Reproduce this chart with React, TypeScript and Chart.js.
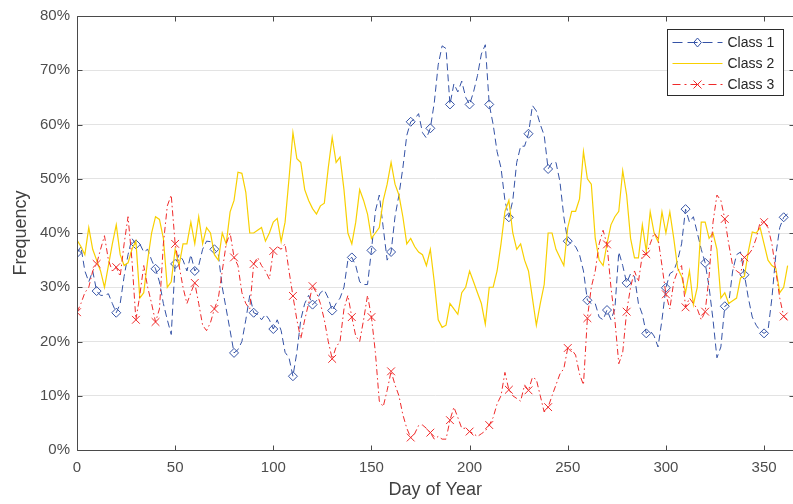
import React, { useEffect, useRef } from 'react';
import { Chart, registerables } from 'chart.js';

Chart.register(...registerables);

// Day of year (sampled every 2 days)
const days = [
  0, 2, 4, 6, 8, 10, 12, 14, 16, 18, 20, 22, 24, 26, 28, 30, 32, 34, 36, 38, 40, 42, 44, 46, 48, 50, 52, 54, 56, 58, 60,
  62, 64, 66, 68, 70, 72, 74, 76, 78, 80, 82, 84, 86, 88, 90, 92, 94, 96, 98, 100, 102, 104, 106, 108, 110, 112, 114, 116, 118, 120,
  122, 124, 126, 128, 130, 132, 134, 136, 138, 140, 142, 144, 146, 148, 150, 152, 154, 156, 158, 160, 162, 164, 166, 168, 170, 172, 174, 176, 178, 180,
  182, 184, 186, 188, 190, 192, 194, 196, 198, 200, 202, 204, 206, 208, 210, 212, 214, 216, 218, 220, 222, 224, 226, 228, 230, 232, 234, 236, 238, 240,
  242, 244, 246, 248, 250, 252, 254, 256, 258, 260, 262, 264, 266, 268, 270, 272, 274, 276, 278, 280, 282, 284, 286, 288, 290, 292, 294, 296, 298, 300,
  302, 304, 306, 308, 310, 312, 314, 316, 318, 320, 322, 324, 326, 328, 330, 332, 334, 336, 338, 340, 342, 344, 346, 348, 350, 352, 354, 356, 358, 360, 362,
];

const class1 = [
  36.3, 37.5, 33, 31, 33, 29.3, 28.5, 28.5, 28.8, 27, 25.3, 27, 32, 36, 39, 37.9, 38, 36.5, 37, 35, 33.4, 31, 27, 24, 21.3, 34.3, 36, 35, 33, 36, 33,
  34, 37, 38.5, 38.4, 37, 36, 30, 26, 22, 17.9, 18.5, 20, 24, 28.5, 25.3, 25, 24, 25, 24, 22.3, 24, 22, 18, 17, 13.6, 18, 24, 27, 28.5, 26.8,
  27.5, 29, 29.5, 28, 25.7, 27, 28, 30, 35, 35.5, 34, 31, 30.5, 30.5, 36.8, 44, 47, 41, 35, 36.5, 43, 47, 52, 58, 60.5, 61, 62, 58.5, 57.5, 59.3,
  64, 71, 74.5, 74, 63.7, 67.5, 66, 68, 65, 63.7, 66, 69, 73, 74.7, 63.7, 60, 55, 52, 46, 42.9, 46, 53, 56, 56, 58.3, 63.5, 62.5, 60, 58, 51.8,
  53, 53, 49.5, 43, 38.5, 38, 37.5, 36, 33, 27.6, 27, 27, 24.5, 24, 25.8, 24, 26, 36.5, 34, 30.8, 32.5, 32, 27, 25, 21.5, 22, 21, 19, 24, 29.9,
  32.5, 33, 35, 38, 44.4, 42, 43, 40, 37, 34.5, 30, 24, 17, 19, 26.5, 27, 33, 36, 36.5, 32.3, 28, 24.5, 23, 22, 21.5, 22, 28, 36, 41, 42.9, 43.5,
];

const class2 = [
  38.7, 37.5, 36, 41, 37, 35, 33, 30, 34, 38, 41.5, 36, 34, 34.5, 37, 38.5, 28, 29, 35, 40, 43, 42.5, 39, 30, 31, 37, 34, 38, 38, 42, 38,
  43, 38, 41, 40, 36, 35, 40, 38, 43.9, 46, 51.2, 51, 47.5, 40, 40, 40.5, 41, 38.5, 40, 42, 42.7, 38.4, 42, 50, 58.5, 53.7, 53, 48, 46, 44.5,
  43.5, 45, 45.5, 52, 57.6, 53, 54, 48, 40, 38, 42, 48, 46, 43.5, 39, 40, 41, 46, 49, 53, 49, 47, 43, 38, 39, 37.5, 36.5, 36, 34, 37,
  31, 24, 22.6, 23, 27, 26, 25, 29, 30, 33, 31, 29, 27, 23.2, 30, 30, 33, 38, 44, 46, 40, 37, 38, 35, 33, 28, 23, 27, 30.5, 40,
  40, 37, 35.5, 34, 41, 44, 44, 46.3, 55, 50, 49, 39, 35, 34, 38, 41.5, 43, 44, 51.5, 47, 39, 35.4, 35.4, 41.5, 36.6, 43.9, 40, 38.4, 43.9, 40,
  43.9, 39, 33.5, 32, 29, 33, 26.8, 30, 42, 42, 39, 40, 37, 28, 29, 27, 27.5, 28, 31.7, 32, 36.6, 40.2, 40, 41, 38, 35, 34, 33.5, 29, 30, 34,
];

const class3 = [
  25.4, 27, 29, 30, 33, 34.3, 37, 39.5, 35, 33, 33.7, 32, 38, 43, 35, 24, 28.5, 34, 30, 27, 23.6, 26, 38, 45, 47, 38, 34, 30, 27, 29, 30.8,
  27, 23, 22, 23.5, 26, 28, 33, 38, 40, 35.5, 34, 29, 27, 26, 34.3, 35.5, 34, 33, 31.5, 36.7, 37.5, 37, 38, 33, 28.4, 24, 20.5, 24, 27, 30.2,
  29, 27, 24, 20, 16.8, 19, 20, 26, 28.5, 24.5, 21, 20, 24, 28.5, 24.5, 18, 9, 8, 11, 14.5, 12, 10, 6.5, 4, 2.3, 3, 4.5, 4.6, 4, 3.2,
  2, 2.5, 2, 2, 5.5, 7.9, 6, 4, 4, 3.4, 3, 2.5, 3, 3.5, 4.6, 6, 8.5, 10, 14.3, 11.1, 10, 9.5, 9, 12, 11, 13.4, 13, 10, 7, 7.9,
  10, 12, 14, 15, 18.8, 18.5, 17.5, 14, 12, 24.3, 30, 33, 38, 40.5, 37.9, 30, 24, 15.9, 18, 25.5, 30, 33, 31, 36, 36.1, 38, 40, 39, 34, 28.7,
  26, 31, 33, 34, 26.3, 28, 27, 26, 24, 25.5, 32, 42, 47, 46, 42.6, 38, 34, 33, 32.5, 35.5, 36, 37, 39, 42, 42, 41, 38, 33, 28, 24.6, 24,
];

const seriesNames = ['Class 1', 'Class 2', 'Class 3'];
const xTicks = [0, 50, 100, 150, 200, 250, 300, 350];
const yTicks = [0, 10, 20, 30, 40, 50, 60, 70, 80];

const BLUE = '#3553a6';
const YELLOW = '#f8d000';
const RED = '#ef2a2a';
const FONT = "'Liberation Sans', Arial, Helvetica, sans-serif";

const markerEvery = 10;

function drawMarker(ctx: CanvasRenderingContext2D, kind: string, x: number, y: number, color: string) {
  ctx.save();
  ctx.setLineDash([]);
  ctx.strokeStyle = color;
  ctx.lineWidth = 1;
  ctx.beginPath();
  if (kind === 'diamond') {
    const r = 4.5;
    ctx.moveTo(x, y - r);
    ctx.lineTo(x + r * 0.85, y);
    ctx.lineTo(x, y + r);
    ctx.lineTo(x - r * 0.85, y);
    ctx.closePath();
  } else {
    const r = 4;
    ctx.moveTo(x - r, y - r);
    ctx.lineTo(x + r, y + r);
    ctx.moveTo(x + r, y - r);
    ctx.lineTo(x - r, y + r);
  }
  ctx.stroke();
  ctx.restore();
}

const framePlugin = {
  id: 'matlabFrame',
  afterDatasetsDraw(chart: any) {
    const { ctx, chartArea } = chart;
    const { left, right, top, bottom } = chartArea;
    const xs = chart.scales.x;
    const ys = chart.scales.y;
    ctx.save();
    ctx.setLineDash([]);
    ctx.strokeStyle = '#4a4a4a';
    ctx.lineWidth = 1;
    const L = Math.round(left) + 0.5;
    const R = Math.round(right) + 0.5;
    const T = Math.round(top) + 0.5;
    const B = Math.round(bottom) + 0.5;
    ctx.beginPath();
    ctx.moveTo(L, T);
    ctx.lineTo(R, T);
    ctx.lineTo(R, B);
    ctx.lineTo(L, B);
    ctx.closePath();
    ctx.stroke();
    const tl = 5;
    ctx.beginPath();
    xTicks.forEach((t) => {
      const px = Math.round(xs.getPixelForValue(t)) + 0.5;
      ctx.moveTo(px, B);
      ctx.lineTo(px, B - tl);
      ctx.moveTo(px, T);
      ctx.lineTo(px, T + tl);
    });
    yTicks.forEach((t) => {
      const py = Math.round(ys.getPixelForValue(t)) + 0.5;
      ctx.moveTo(L, py);
      ctx.lineTo(L + tl, py);
      ctx.moveTo(R, py);
      ctx.lineTo(R - tl, py);
    });
    ctx.stroke();
    ctx.restore();
  },
  afterDraw(chart: any) {
    const ctx: CanvasRenderingContext2D = chart.ctx;
    const bx = 667.5, by = 29.5, bw = 116, bh = 66;
    ctx.save();
    ctx.fillStyle = '#ffffff';
    ctx.fillRect(bx, by, bw, bh);
    ctx.strokeStyle = '#2b2b2b';
    ctx.lineWidth = 1;
    ctx.setLineDash([]);
    ctx.strokeRect(bx, by, bw, bh);
    const rows = [42.5, 63.5, 84.5];
    const styles = [
      { color: BLUE, dash: [10, 5], marker: 'diamond' },
      { color: YELLOW, dash: [], marker: '' },
      { color: RED, dash: [8, 4, 2, 4], marker: 'cross' },
    ];
    const x0 = 672.5, x1 = 722.5, xm = 697.5;
    rows.forEach((ry, i) => {
      const s = styles[i];
      ctx.save();
      ctx.strokeStyle = s.color;
      ctx.lineWidth = 1;
      ctx.setLineDash(s.dash);
      ctx.beginPath();
      ctx.moveTo(x0, ry);
      ctx.lineTo(x1, ry);
      ctx.stroke();
      ctx.restore();
      if (s.marker) drawMarker(ctx, s.marker, xm, ry, s.color);
      ctx.fillStyle = '#262626';
      ctx.font = `14px ${FONT}`;
      ctx.textBaseline = 'middle';
      ctx.textAlign = 'left';
      ctx.fillText(seriesNames[i], 727.5, ry + 0.5);
    });
    ctx.restore();
  },
};

export default function App() {
  const canvasRef = useRef<HTMLCanvasElement | null>(null);

  useEffect(() => {
    const canvas = canvasRef.current;
    if (!canvas) return;
    const toPts = (vals: number[]) => days.map((d, i) => ({ x: d, y: vals[i] }));
    const chart = new Chart(canvas, {
      type: 'line',
      data: {
        datasets: [
          {
            label: seriesNames[0],
            data: toPts(class1),
            borderColor: BLUE,
            backgroundColor: 'transparent',
            borderWidth: 1,
            borderDash: [7, 4],
            pointStyle: 'rectRot',
            pointRadius: days.map((d) => (d % markerEvery === 0 ? 4.5 : 0)),
            pointBorderColor: BLUE,
            pointBackgroundColor: 'transparent',
            pointBorderWidth: 1,
            tension: 0,
            order: 3,
          },
          {
            label: seriesNames[1],
            data: toPts(class2),
            borderColor: YELLOW,
            backgroundColor: 'transparent',
            borderWidth: 1.2,
            pointRadius: 0,
            tension: 0,
            order: 2,
          },
          {
            label: seriesNames[2],
            data: toPts(class3),
            borderColor: RED,
            backgroundColor: 'transparent',
            borderWidth: 1,
            borderDash: [6, 3, 1.5, 3],
            pointStyle: 'crossRot',
            pointRadius: days.map((d) => (d % markerEvery === 0 ? 5.5 : 0)),
            pointBorderColor: RED,
            pointBackgroundColor: 'transparent',
            pointBorderWidth: 1,
            tension: 0,
            order: 1,
          },
        ],
      },
      options: {
        responsive: false,
        animation: false,
        devicePixelRatio: 1,
        layout: { padding: { top: 13, right: 1, left: 0, bottom: 0 } },
        plugins: {
          legend: { display: false },
          tooltip: { enabled: false },
        },
        elements: { line: { borderCapStyle: 'butt' } },
        scales: {
          x: {
            type: 'linear',
            min: 0,
            max: 365,
            afterFit: (s: any) => {
              s.height = 54;
            },
            afterBuildTicks: (s: any) => {
              s.ticks = xTicks.map((v) => ({ value: v }));
            },
            ticks: {
              padding: 9,
              color: '#4d4d4d',
              font: { family: FONT, size: 15 },
              maxRotation: 0,
            },
            grid: { display: false, drawTicks: false },
            border: { display: false },
            title: {
              display: true,
              text: 'Day of Year',
              color: '#404040',
              font: { family: FONT, size: 18 },
              padding: { top: 0, bottom: 3 },
            },
          },
          y: {
            type: 'linear',
            min: 0,
            max: 80,
            afterFit: (s: any) => {
              s.width = 77;
            },
            afterBuildTicks: (s: any) => {
              s.ticks = yTicks.map((v) => ({ value: v }));
            },
            ticks: {
              padding: 7,
              color: '#4d4d4d',
              font: { family: FONT, size: 15 },
              callback: (v: any) => `${v}%`,
            },
            grid: { color: '#e3e3e3', lineWidth: 1, drawTicks: false },
            border: { display: false },
            title: {
              display: true,
              text: 'Frequency',
              color: '#404040',
              font: { family: FONT, size: 18 },
              padding: { top: 10, bottom: 0 },
            },
          },
        },
      },
      plugins: [framePlugin],
    });
    return () => chart.destroy();
  }, []);

  return (
    <div
      style={{
        position: 'fixed',
        left: 0,
        top: 0,
        width: 793,
        height: 504,
        overflow: 'hidden',
        background: '#ffffff',
      }}
    >
      <canvas ref={canvasRef} width={800} height={504} style={{ width: 800, height: 504, display: 'block' }} />
    </div>
  );
}
